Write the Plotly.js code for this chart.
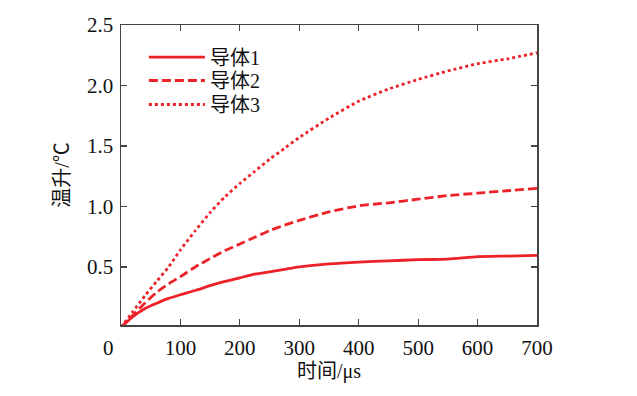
<!DOCTYPE html>
<html>
<head>
<meta charset="utf-8">
<script src="https://cdn.plot.ly/plotly-3.0.1.min.js"></script>
<style>html,body{margin:0;padding:0;background:#fff;}#chart{width:637px;height:396px;}</style>
</head>
<body>
<div id="chart"></div>
<script>
const seriesNames = ['导体1', '导体2', '导体3'];
const timeUs = [0, 20, 40, 60, 80, 100, 125, 150, 175, 200, 225, 250, 275, 300, 350, 400, 450, 500, 550, 600, 650, 700];
const conductor1 = [0, 0.09, 0.155, 0.20, 0.24, 0.27, 0.305, 0.345, 0.38, 0.41, 0.44, 0.46, 0.48, 0.50, 0.525, 0.54, 0.55, 0.56, 0.565, 0.585, 0.59, 0.595];
const conductor2 = [0, 0.10, 0.20, 0.29, 0.36, 0.42, 0.50, 0.57, 0.635, 0.69, 0.745, 0.80, 0.845, 0.885, 0.955, 1.005, 1.03, 1.06, 1.09, 1.11, 1.13, 1.15];
const conductor3 = [0, 0.13, 0.26, 0.38, 0.50, 0.64, 0.80, 0.95, 1.08, 1.19, 1.29, 1.39, 1.48, 1.57, 1.73, 1.87, 1.97, 2.05, 2.12, 2.18, 2.22, 2.27];
const xTicks = [100, 200, 300, 400, 500, 600, 700];
const yTicks = [0.5, 1.0, 1.5, 2.0, 2.5];
const yTickText = ['0.5', '1.0', '1.5', '2.0', '2.5'];

const red = 'rgb(236,34,40)';
const fontFam = '"Liberation Serif", "Noto Sans CJK SC", serif';
const dashes = ['solid', '9px,4px', '3px,3px'];
const ys = [conductor1, conductor2, conductor3];
const legendIds = ['legend', 'legend2', 'legend3'];
const legendY = [0.893, 0.815, 0.735];

const traces = ys.map((y, i) => ({
  x: timeUs, y: y, name: seriesNames[i], type: 'scatter', mode: 'lines',
  legend: legendIds[i],
  line: {color: red, width: 2.8, dash: dashes[i], shape: 'spline', smoothing: 0.6}
}));

const axisCommon = {
  showgrid: false, zeroline: false, showline: true, linecolor: '#444', linewidth: 1.5,
  mirror: 'ticks', ticks: 'inside', ticklen: 6, tickcolor: '#444', tickwidth: 1.2,
  tickfont: {family: fontFam, size: 21, color: '#111'}
};

const layout = {
  width: 637, height: 396,
  margin: {l: 121, r: 100, t: 25, b: 71},
  paper_bgcolor: '#fff', plot_bgcolor: '#fff',
  font: {family: fontFam, color: '#111'},
  xaxis: Object.assign({}, axisCommon, {
    range: [0, 700], tickvals: xTicks, ticklabelstandoff: 3,
    title: {text: '时间/μs', font: {family: fontFam, size: 20, color: '#111'}, standoff: 4}
  }),
  yaxis: Object.assign({}, axisCommon, {
    range: [0.02, 2.5], tickvals: yTicks, ticktext: yTickText, ticklabelstandoff: 2,
    title: {text: '温升/℃', font: {family: fontFam, size: 20, color: '#111'}, standoff: 12}
  }),
  showlegend: true,
  annotations: [{
    text: '0', xref: 'paper', yref: 'paper', x: 0, y: 0, xanchor: 'right', yanchor: 'top',
    xshift: -5, yshift: -9, showarrow: false, font: {family: fontFam, size: 21, color: '#111'}
  }]
};
legendIds.forEach((id, i) => {
  layout[id] = {
    x: 0.055, y: legendY[i], xanchor: 'left', yanchor: 'middle',
    bgcolor: 'rgba(0,0,0,0)', borderwidth: 0, itemwidth: 56,
    font: {family: fontFam, size: 20, color: '#111'}
  };
});

Plotly.newPlot('chart', traces, layout, {displayModeBar: false, staticPlot: true});
</script>
</body>
</html>
